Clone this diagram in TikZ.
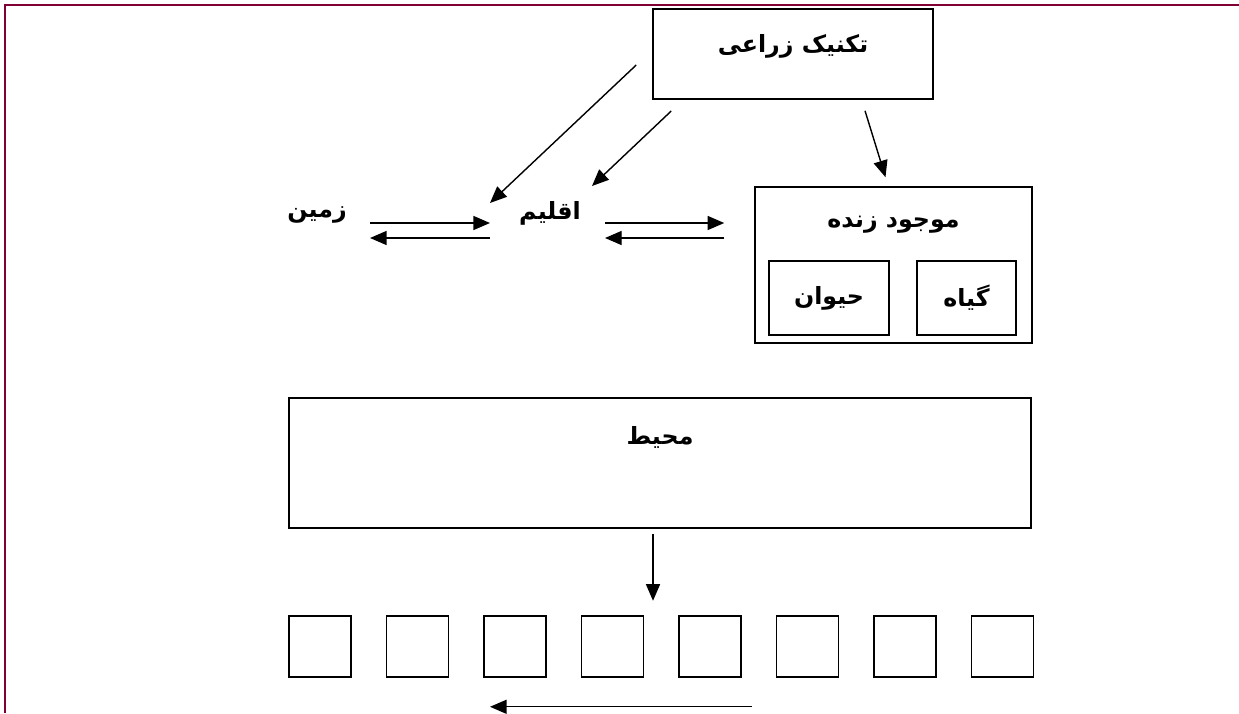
\documentclass[tikz,border=0pt]{standalone}
\usepackage{fontspec}
\usetikzlibrary{positioning, arrows.meta, calc}
\usepackage{xcolor}
\newfontfamily\arabicfont[Script=Arabic]{DejaVu Sans}
\TeXXeTstate=1
\definecolor{frameline}{HTML}{800035}
\newcommand{\fatext}[1]{\arabicfont\bfseries\beginR #1\endR}

\begin{document}
\begin{tikzpicture}[x=0.02cm, y=-0.02cm,
    box/.style={draw, line width=0.9pt, inner sep=0pt},
    lbl/.style={font=\fontsize{13.5}{15}\selectfont, inner sep=1pt},
    arr/.style={-{Triangle[length=9.5pt,width=8pt]}, line width=0.8pt}]
  \useasboundingbox (0,0) rectangle (1239,713);
  % page frame
  \draw[frameline, line width=1.1pt] (5,713) -- (5,5) -- (1239,5);

  % top box
  \node[box, minimum width=5.6cm, minimum height=1.8cm] (tech) at (793,54) {};
  \node[lbl, below=0.48cm of tech.north] (techT) {\fatext{تکنیک زراعی}};

  % middle row
  \node[lbl] (zamin) at (317,215) {\fatext{زمین}};
  \node[lbl] (eqlim) at (550,213) {\fatext{اقلیم}};
  \node[box, minimum width=5.54cm, minimum height=3.12cm] (mowjud) at (893.5,265) {};
  \node[lbl, below=0.56cm of mowjud.north] (mowjudT) {\fatext{موجود زنده}};
  \node[box, lbl, minimum width=2.4cm, minimum height=1.48cm] (heyvan) at (829,298) {\fatext{حیوان}};
  \node[box, lbl, minimum width=1.98cm, minimum height=1.48cm] (giah) at (966.5,298) {\fatext{گیاه}};

  % environment box
  \node[box, minimum width=14.84cm, minimum height=2.6cm] (mohit) at (660,463) {};
  \node[lbl, below=0.55cm of mohit.north] (mohitT) {\fatext{محیط}};

  % row of empty cells
  \foreach \i in {1,...,8}
    \node[box, minimum width=1.24cm, minimum height=1.22cm] (cell\i) at ({320+97.5*(\i-1)},646.5) {};

  % arrows
  \draw[arr] ($(tech.west)+(-16,11)$) -- ($(eqlim)+(-60,-10)$);
  \draw[arr] ($(tech.west)+(19,57)$) -- ($(eqlim)+(42,-27)$);
  \draw[arr] ($(tech.south)+(72,11)$) -- ($(mowjud.north)+(-8,-9)$);

  \draw[arr] ($(zamin)+(53,8)$) -- ($(eqlim)+(-60,10)$);
  \draw[arr] ($(eqlim)+(-60,25)$) -- ($(zamin)+(53,23)$);
  \draw[arr] ($(eqlim)+(55,10)$) -- ($(mowjud.west)+(-30,-42)$);
  \draw[arr] ($(mowjud.west)+(-30,-27)$) -- ($(eqlim)+(55,25)$);

  \draw[arr] ($(mohit.south)+(-7,5)$) -- ($(mohit.south)+(-7,72)$);
  \draw[arr] ($(cell5.south)+(42,29)$) -- ($(cell3.south)+(-25,29)$);
\end{tikzpicture}
\end{document}
